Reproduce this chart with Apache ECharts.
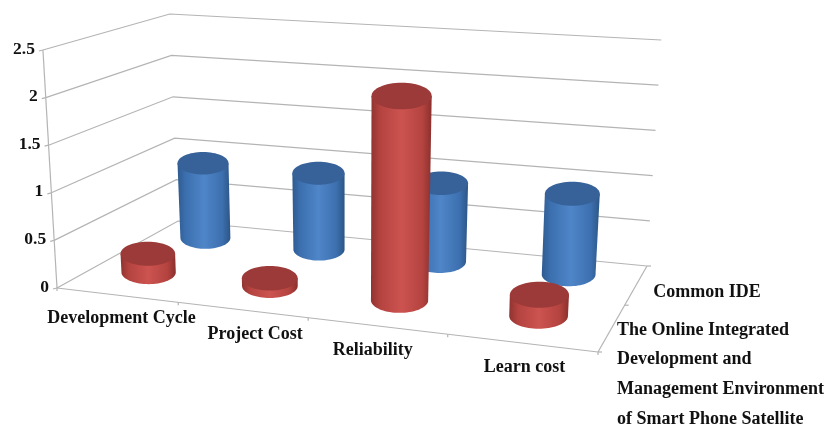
<!DOCTYPE html>
<html>
<head>
<meta charset="utf-8">
<style>html,body{margin:0;padding:0;background:#fff}#c{width:827px;height:425px;filter:blur(0.35px)}</style>
<script src="https://cdn.jsdelivr.net/npm/echarts@6/dist/echarts.min.js"></script>
</head>
<body>
<div id="c"></div>
<script>
const categories = ['Development Cycle', 'Project Cost', 'Reliability', 'Learn cost'];
const yTicks = [0, 0.5, 1, 1.5, 2, 2.5];
const seriesNames = ['Common IDE', 'The Online Integrated\nDevelopment and\nManagement Environment\nof Smart Phone Satellite'];
const commonIDE = [0.86, 0.86, 0.87, 0.88];
const onlineIDE = [0.2, 0.08, 2.15, 0.22];

// Layout of the perspective box (screen-space projection parameters)
const FLOOR = [[57, 288], [598, 352], [647, 266], [178, 221]];
const WALL_H = [238, 247, 226, 207];       // on-screen height of the full axis at each floor corner
const LEAN_X = 350, LEAN = 0.048;          // verticals splay out from this x
const ROW_BLUE = 0.75, ROW_RED = 0.25, ELL = 0.44, BASE_LIFT = 3.5;
const CAT_NUDGE = [[5, 23], [13, 24], [-4, 25], [3, 24]];
const FONT = 'bold 18px "Liberation Serif"';

function homography(q) {
  const [x0, y0] = q[0], [x1, y1] = q[1], [x2, y2] = q[2], [x3, y3] = q[3];
  const dx1 = x1 - x2, dx2 = x3 - x2, sx = x0 - x1 + x2 - x3;
  const dy1 = y1 - y2, dy2 = y3 - y2, sy = y0 - y1 + y2 - y3;
  const den = dx1 * dy2 - dx2 * dy1;
  const g = (sx * dy2 - dx2 * sy) / den, h = (dx1 * sy - sx * dy1) / den;
  const a = x1 - x0 + g * x1, b = x3 - x0 + h * x3, d = y1 - y0 + g * y1, e = y3 - y0 + h * y3;
  return (u, v) => {
    const k = g * u + h * v + 1;
    return [(a * u + b * v + x0) / k, (d * u + e * v + y0) / k];
  };
}
const H0 = homography(FLOOR);
function P(u, v, w) {
  const p = H0(u, v);
  const hf = WALL_H[0] + (WALL_H[1] - WALL_H[0]) * u, hb = WALL_H[3] + (WALL_H[2] - WALL_H[3]) * u;
  const h = hf + (hb - hf) * v;
  return [p[0] + (p[0] - LEAN_X) * LEAN * w, p[1] - h * w];
}
// Read u and w from the library's own hidden axes
function norm(api, cat, val) {
  const c = api.coord([cat, val]);
  return [c[0] / api.getWidth(), 1 - c[1] / api.getHeight()];
}

function cylinder(row, stops, topColor) {
  const radius = (x, w) => 26 * (1 + (0.75 - row) * 0.2) * (1 + 0.0002 * (x - 400)) * (1 + 0.06 * w);
  return function (params, api) {
    const [u, w] = norm(api, api.value(0), api.value(1));
    const [u0, w0] = norm(api, api.value(0), 0);
    const b = P(u0, row, w0), t = P(u, row, w);
    b[1] -= BASE_LIFT; t[1] -= BASE_LIFT;
    const rb = radius(b[0], 0), rt = radius(t[0], w);
    const pts = [];
    for (let i = 0; i <= 36; i++) {
      const a = Math.PI * i / 36;
      pts.push([b[0] + rb * Math.cos(a), b[1] + rb * ELL * Math.sin(a)]);
    }
    pts.push([t[0] - rt, t[1]]);
    pts.push([t[0] + rt, t[1]]);
    return {
      type: 'group',
      children: [
        { type: 'polygon', shape: { points: pts },
          style: { fill: new echarts.graphic.LinearGradient(0, 0, 1, 0, stops) } },
        { type: 'ellipse', shape: { cx: t[0], cy: t[1], rx: rt, ry: rt * ELL }, style: { fill: topColor } }
      ]
    };
  };
}

const LINE = '#b4b4b4';
function line(a, b) {
  return { type: 'line', shape: { x1: a[0], y1: a[1], x2: b[0], y2: b[1] }, style: { stroke: LINE, lineWidth: 1.2 } };
}
function gridItem(params, api) {
  const w = norm(api, 0, api.value(0))[1];
  const a = P(0, 0, w), c = P(0, 1, w), d = P(1, 1, w);
  return {
    type: 'group',
    children: [
      { type: 'polyline', shape: { points: [a, c, d] }, style: { fill: 'none', stroke: LINE, lineWidth: 1.2 } },
      line(a, [a[0] - 4, a[1] + 1]),
      { type: 'text', x: a[0] - 8, y: a[1] - 1,
        style: { text: String(api.value(0)), font: 'bold 17.5px "Liberation Serif"', fill: '#111', align: 'right', verticalAlign: 'middle' } }
    ]
  };
}
function catItem(params, api) {
  const i = api.value(0);
  const u = norm(api, i, 0)[0];
  const p = P(u, 0, 0);
  const n = CAT_NUDGE[i];
  return {
    type: 'text', x: p[0] + n[0], y: p[1] + n[1],
    style: { text: categories[i], font: FONT, fill: '#111', align: 'center', verticalAlign: 'middle' }
  };
}
function frameItem(params, api) {
  const kids = [line(P(0, 0, 0), P(0, 0, 1)), line(P(0, 0, 0), P(1, 0, 0)), line(P(1, 0, 0), P(1, 1, 0))];
  categories.concat(['']).forEach((_, i) => {
    const p = P(i / categories.length, 0, 0);
    kids.push(line(p, [p[0], p[1] + 3]));
  });
  [0, 0.5, 1].forEach(v => {
    const p = P(1, v, 0);
    kids.push(line(p, [p[0] + 4, p[1]]));
  });
  return { type: 'group', children: kids };
}
function nameItem(params, api) {
  const i = api.value(0);
  const front = i === 1;
  const p = P(1, front ? ROW_RED : ROW_BLUE, 0);
  return {
    type: 'text', x: p[0] + (front ? 5 : 17), y: p[1] + (front ? 47 : 8),
    style: { text: seriesNames[i], font: FONT, lineHeight: 29.7, fill: '#111', align: 'left', verticalAlign: 'middle' }
  };
}

const chart = echarts.init(document.getElementById('c'));
const custom = (name, data, renderItem, z) => ({
  type: 'custom', name, data, renderItem, z, clip: false, silent: true, animation: false,
  encode: { x: 0, y: 1 }
});
chart.setOption({
  animation: false,
  backgroundColor: '#fff',
  grid: { left: 0, right: 0, top: 0, bottom: 0 },
  xAxis: { type: 'category', data: categories.map((_, i) => i), show: false },
  yAxis: { type: 'value', min: 0, max: 2.5, interval: 0.5, show: false },
  series: [
    custom('grid', yTicks.map(t => [t]), gridItem, 1),
    custom('frame', [[0]], frameItem, 1),
    custom('Common IDE', commonIDE.map((v, i) => [i, v]), cylinder(ROW_BLUE, [
      { offset: 0, color: '#2f5a90' }, { offset: 0.15, color: '#3b6fae' }, { offset: 0.5, color: '#4f86c9' },
      { offset: 0.85, color: '#3c6fae' }, { offset: 1, color: '#2c5585' }], '#376299'), 2),
    custom('Online', onlineIDE.map((v, i) => [i, v]), cylinder(ROW_RED, [
      { offset: 0, color: '#8f3431' }, { offset: 0.15, color: '#b4433f' }, { offset: 0.5, color: '#cc5350' },
      { offset: 0.85, color: '#b4433f' }, { offset: 1, color: '#8a302e' }], '#9b3a38'), 3),
    custom('cats', categories.map((_, i) => [i]), catItem, 4),
    custom('names', seriesNames.map((_, i) => [i]), nameItem, 4)
  ]
});
</script>
</body>
</html>
